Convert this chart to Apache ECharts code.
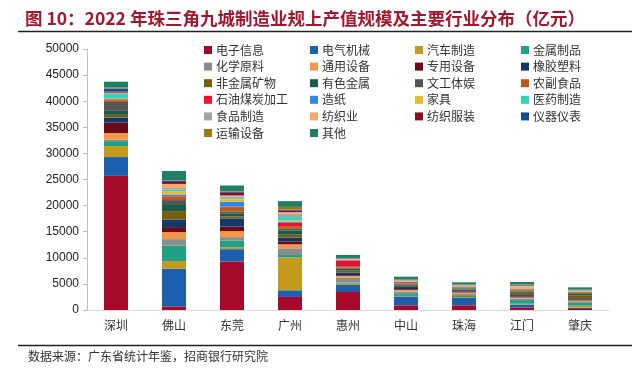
<!DOCTYPE html>
<html><head><meta charset="utf-8">
<script src="https://cdn.jsdelivr.net/npm/echarts@6/dist/echarts.min.js"></script>
<style>html,body{margin:0;padding:0;background:#fff}#c{width:641px;height:381px}</style>
</head><body><div id="c"></div>
<script>
const cities = ['深圳','佛山','东莞','广州','惠州','中山','珠海','江门','肇庆'];
const yTicks = [0,5000,10000,15000,20000,25000,30000,35000,40000,45000,50000];
// industry values (亿元), order follows cities
const dianzi   = [25700, 700, 9300, 2500, 3450, 900, 900, 450, 190];
const dianqi   = [3600, 7200, 2360, 1280, 1340, 1700, 1400, 600, 250];
const qiche    = [2100, 1470, 320, 6300, 260, 100, 190, 150, 380];
const jinshu   = [960, 3000, 1340, 450, 200, 510, 190, 700, 550];
const huaxue   = [250, 1210, 640, 1280, 950, 320, 420, 300, 320];
const tongyong = [1300, 1340, 1150, 770, 320, 320, 250, 200, 150];
const zhuanyong= [2000, 960, 890, 570, 150, 150, 190, 150, 120];
const xiangjiao= [960, 1470, 1470, 700, 510, 400, 260, 300, 150];
const feijinshu= [510, 1600, 450, 570, 450, 250, 150, 450, 700];
const youse    = [770, 1340, 510, 830, 320, 250, 150, 250, 350];
const wengong  = [1700, 770, 450, 300, 200, 150, 150, 150, 100];
const nongfu   = [320, 640, 830, 510, 150, 150, 100, 250, 150];
const shiyou   = [100, 100, 100, 700, 1200, 150, 80, 60, 50];
const zaozhi   = [150, 320, 960, 200, 60, 60, 50, 100, 60];
const jiaju    = [200, 640, 450, 200, 60, 60, 80, 250, 80];
const yiyao    = [770, 320, 200, 640, 60, 80, 80, 100, 80];
const shipin   = [150, 300, 320, 640, 60, 80, 60, 100, 60];
const fangzhi  = [100, 770, 200, 300, 60, 80, 50, 100, 50];
const fuzhuang = [200, 380, 510, 300, 60, 80, 50, 100, 40];
const yiqi     = [600, 200, 200, 200, 60, 80, 50, 60, 30];
const yunshu   = [200, 100, 100, 510, 60, 60, 50, 100, 60];
const qita     = [1100, 1800, 1100, 1100, 560, 450, 400, 450, 420];

const names = ['电子信息','电气机械','汽车制造','金属制品','化学原料','通用设备','专用设备','橡胶塑料',
  '非金属矿物','有色金属','文工体娱','农副食品','石油煤炭加工','造纸','家具','医药制造',
  '食品制造','纺织业','纺织服装','仪器仪表','运输设备','其他'];
const values = [dianzi,dianqi,qiche,jinshu,huaxue,tongyong,zhuanyong,xiangjiao,feijinshu,youse,
  wengong,nongfu,shiyou,zaozhi,jiaju,yiyao,shipin,fangzhi,fuzhuang,yiqi,yunshu,qita];
const colors = ['#A50A2B','#1C5FAF','#C39A1B','#22A085','#8C8C8C','#F79646','#6A0A1B','#113A6B',
  '#7A5E10','#1A5C4C','#555555','#BF5A14','#E8122E','#2A8AE8','#ECBA2E','#2FD5B8',
  '#A6A6A6','#F9A771','#8A0E22','#134D91','#9E7C14','#1E7E66'];

const series = names.map((n,i)=>({
  name:n, type:'bar', stack:'total', barWidth:24, data:values[i],
  itemStyle:{color:colors[i]}, emphasis:{disabled:true}
}));

const cols = [
  ['电子信息','化学原料','非金属矿物','石油煤炭加工','食品制造','运输设备'],
  ['电气机械','通用设备','有色金属','造纸','纺织业','其他'],
  ['汽车制造','专用设备','文工体娱','家具','纺织服装'],
  ['金属制品','橡胶塑料','农副食品','医药制造','仪器仪表']
];
const colX = [199,305,410,516];
const legends = cols.map((d,i)=>({
  data:d, orient:'vertical', left:colX[i], top:38, icon:'rect',
  itemWidth:8, itemHeight:8, itemGap:2.6, selectedMode:false,
  textStyle:{fontSize:12, color:'#333', lineHeight:14, padding:[0,0,0,-1],
    fontFamily:'Noto Sans CJK SC'}
}));

const chart = echarts.init(document.getElementById('c'));
chart.setOption({
  animation:false,
  title:{text:'图 10：2022 年珠三角九城制造业规上产值规模及主要行业分布（亿元）',
    left:20, top:5,
    textStyle:{fontSize:17.5, fontWeight:'bold', color:'#A3162C', fontFamily:'Noto Sans CJK SC'}},
  legend:legends,
  grid:{left:87, right:32, top:49, bottom:71},
  xAxis:{type:'category', data:cities,
    axisLine:{lineStyle:{color:'#D9D9D9', width:1}},
    axisTick:{show:false},
    axisLabel:{color:'#333', fontSize:12, margin:9, fontFamily:'Noto Sans CJK SC'}},
  yAxis:{type:'value', min:yTicks[0], max:yTicks[yTicks.length-1], interval:yTicks[1]-yTicks[0],
    axisLine:{show:true, lineStyle:{color:'#BFBFBF'}},
    axisTick:{show:true, length:4, lineStyle:{color:'#BFBFBF'}},
    splitLine:{show:false},
    axisLabel:{color:'#222', fontSize:12, margin:8, fontFamily:'Liberation Sans',
      formatter:(v)=>String(v)}},
  series:series,
  graphic:[
    {type:'line', shape:{x1:18,y1:31.5,x2:632,y2:31.5}, style:{stroke:'#222', lineWidth:1.5}},
    {type:'line', shape:{x1:18,y1:345.5,x2:632,y2:345.5}, style:{stroke:'#222', lineWidth:1.5}},
    {type:'text', left:28, top:350, style:{text:'数据来源：广东省统计年鉴，招商银行研究院',
      fontSize:12, fill:'#333', fontFamily:'Noto Sans CJK SC'}}
  ]
});
</script></body></html>
